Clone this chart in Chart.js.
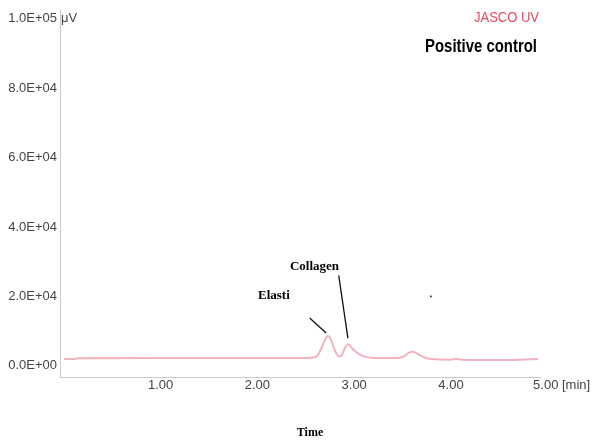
<!DOCTYPE html>
<html>
<head>
<meta charset="utf-8">
<script src="https://cdn.jsdelivr.net/npm/chart.js@4"></script>
<style>
  html, body { margin: 0; padding: 0; background: #fff; }
  #wrap { width: 592px; height: 443px; position: relative; }
</style>
</head>
<body>
<div id="wrap"><canvas id="chromChart"></canvas></div>
<script>
// retention time (min) and detector signal (uV)
const times  = [0, 0.12, 0.13, 1.0, 2.0, 2.5, 2.58, 2.62, 2.66, 2.70, 2.73, 2.76, 2.80, 2.84, 2.87, 2.91, 2.94, 2.98, 3.05, 3.12, 3.2, 3.45, 3.52, 3.57, 3.61, 3.67, 3.75, 3.85, 4.0, 4.05, 4.12, 4.5, 4.7, 4.9];
const signal = [2000, 2000, 2200, 2250, 2300, 2300, 2400, 3000, 5000, 7600, 8600, 7500, 4500, 2700, 3000, 5500, 6200, 5000, 3400, 2600, 2300, 2250, 2800, 3900, 4100, 3200, 2200, 1900, 1800, 2000, 1800, 1700, 1800, 2000];

const yTicks = [0, 20000, 40000, 60000, 80000, 100000];
const yTickLabels = ['0.0E+00', '2.0E+04', '4.0E+04', '6.0E+04', '8.0E+04', '1.0E+05'];
const xTicks = [1, 2, 3, 4];
const xTickLabels = ['1.00', '2.00', '3.00', '4.00'];
const xEndTick = 5;
const xEndLabel = '5.00 [min]';
const yUnit = 'μV';

// peak labels with their pointer lines, in data units
const peakLabels = [
  { text: 'Collagen', t: 2.59, v: 28700, from: [2.84, 26100], to: [2.935, 8000] },
  { text: 'Elasti',   t: 2.17, v: 20100, from: [2.54, 13800], to: [2.71, 9500] }
];
const strayDot = [3.79, 20100];

const SANS = '"Liberation Sans", Arial, sans-serif';
const SERIF = '"Liberation Serif", "Times New Roman", serif';

const textPlugin = {
  id: 'chromText',
  afterDraw(chart) {
    const ctx = chart.ctx;
    const xs = chart.scales.x, ys = chart.scales.y;
    ctx.save();
    ctx.textBaseline = 'middle';

    // unit next to top y tick
    ctx.fillStyle = '#444';
    ctx.font = '13px ' + SANS;
    ctx.textAlign = 'left';
    ctx.fillText(yUnit, xs.left + 1, ys.getPixelForValue(100000));

    // last x label with unit
    const endX = xs.getPixelForValue(xEndTick);
    const w = ctx.measureText('5.00').width;
    ctx.fillText(xEndLabel, endX - w / 2 - 2, 385, 58);

    // instrument and sample text
    ctx.textAlign = 'right';
    ctx.fillStyle = '#e84a5f';
    ctx.font = '14px ' + SANS;
    ctx.fillText('JASCO UV', 539, 18, 65);
    ctx.fillStyle = '#000';
    ctx.font = 'bold 18px ' + SANS;
    ctx.fillText('Positive control', 537, 47, 112);

    // peak annotations
    ctx.textAlign = 'center';
    ctx.font = 'bold 13px ' + SERIF;
    ctx.strokeStyle = '#111';
    ctx.lineWidth = 1.3;
    peakLabels.forEach(p => {
      ctx.fillText(p.text, xs.getPixelForValue(p.t), ys.getPixelForValue(p.v));
      ctx.beginPath();
      ctx.moveTo(xs.getPixelForValue(p.from[0]), ys.getPixelForValue(p.from[1]));
      ctx.lineTo(xs.getPixelForValue(p.to[0]), ys.getPixelForValue(p.to[1]));
      ctx.stroke();
    });
    ctx.fillRect(xs.getPixelForValue(strayDot[0]) - 0.5, ys.getPixelForValue(strayDot[1]) - 0.5, 1.5, 1.5);

    // axis caption
    ctx.font = 'bold 12px ' + SERIF;
    ctx.fillText('Time', 310, 433);
    ctx.restore();
  }
};

const ctx = document.getElementById('chromChart').getContext('2d');
new Chart(ctx, {
  type: 'line',
  data: {
    datasets: [{
      data: times.map((t, i) => ({ x: t, y: signal[i] })),
      borderColor: '#f2b3be',
      borderWidth: 2,
      pointRadius: 0,
      fill: false,
      cubicInterpolationMode: 'monotone'
    }]
  },
  options: {
    responsive: true,
    maintainAspectRatio: false,
    animation: false,
    layout: { padding: { top: 10, right: 52, left: 0, bottom: 0 } },
    plugins: { legend: { display: false }, tooltip: { enabled: false } },
    scales: {
      x: {
        type: 'linear',
        min: -0.04,
        max: 4.92,
        afterBuildTicks: s => { s.ticks = xTicks.map(v => ({ value: v })); },
        afterFit: s => { s.height = 66; },
        ticks: {
          callback: (v, i) => xTickLabels[i],
          color: '#444',
          font: { family: SANS, size: 13 },
          padding: 1,
          maxRotation: 0,
          autoSkip: false
        },
        grid: { drawOnChartArea: false, drawTicks: false },
        border: { color: '#c8c8c8', width: 1 }
      },
      y: {
        min: -3200,
        max: 102300,
        afterBuildTicks: s => { s.ticks = yTicks.map(v => ({ value: v })); },
        afterFit: s => { s.width = 60; },
        ticks: {
          callback: (v, i) => yTickLabels[i],
          color: '#444',
          font: { family: SANS, size: 13 },
          padding: 3
        },
        grid: { drawOnChartArea: false, drawTicks: false },
        border: { color: '#c8c8c8', width: 1 }
      }
    }
  },
  plugins: [textPlugin]
});
</script>
</body>
</html>
